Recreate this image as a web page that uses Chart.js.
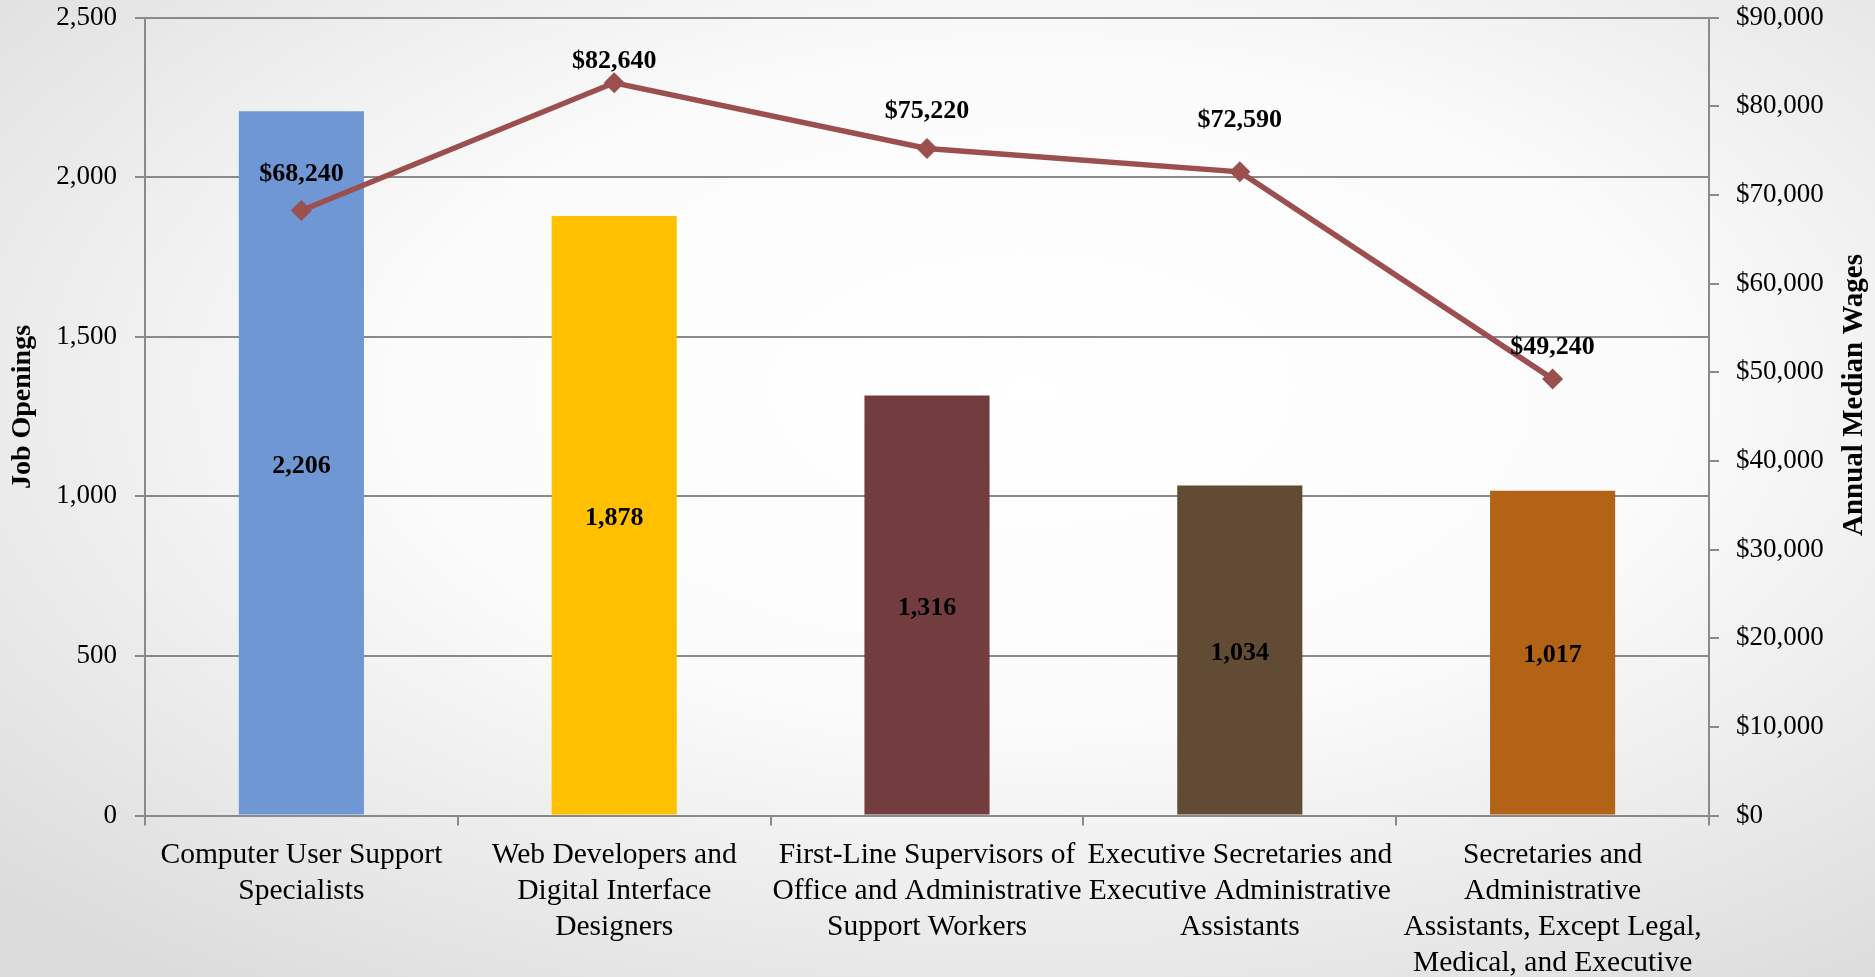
<!DOCTYPE html>
<html>
<head>
<meta charset="utf-8">
<script src="https://cdn.jsdelivr.net/npm/chart.js@4.4.1/dist/chart.umd.min.js"></script>
<style>
  html, body { margin: 0; padding: 0; }
  body {
    width: 1875px; height: 977px; overflow: hidden;
    background: radial-gradient(ellipse 75% 75% at 55% 40%, #ffffff 0%, #fbfbfb 45%, #dcdcdc 100%);
  }
  #wrap { position: relative; width: 1875px; height: 977px; }
</style>
</head>
<body>
<div id="wrap"><canvas id="c"></canvas></div>
<script>
const categories = [
  ["Computer User Support", "Specialists"],
  ["Web Developers and", "Digital Interface", "Designers"],
  ["First-Line Supervisors of", "Office and Administrative", "Support Workers"],
  ["Executive Secretaries and", "Executive Administrative", "Assistants"],
  ["Secretaries and", "Administrative", "Assistants, Except Legal,", "Medical, and Executive"]
];
const jobOpenings = [2206, 1878, 1316, 1034, 1017];
const medianWages = [68240, 82640, 75220, 72590, 49240];
const barColors = ["#6F97D3", "#FFC000", "#733D3F", "#624B35", "#B26316"];
const lineColor = "#9B4F4E";
const leftTitle = "Job Openings";
const rightTitle = "Annual Median Wages";
const wageLabelOffsets = [36, 21, 37, 52, 32];

const FONT = "'Liberation Serif', 'Times New Roman', serif";
const gridColor = "#8a8a8a";

const fmtNum = v => Number(v).toLocaleString('en-US');
const fmtMoney = v => '$' + Number(v).toLocaleString('en-US');

const labelPlugin = {
  id: 'labels',
  afterDatasetsDraw(chart) {
    const ctx = chart.ctx;
    ctx.save();
    ctx.fillStyle = '#000';
    ctx.font = "bold 26px " + FONT;
    ctx.textAlign = 'center';
    ctx.textBaseline = 'middle';
    const barMeta = chart.getDatasetMeta(1);
    barMeta.data.forEach((el, i) => {
      const y = (el.y + el.base) / 2 + 3;
      ctx.fillText(fmtNum(jobOpenings[i]), el.x, y);
    });
    const lineMeta = chart.getDatasetMeta(0);
    lineMeta.data.forEach((el, i) => {
      ctx.fillText(fmtMoney(medianWages[i]), el.x, el.y - wageLabelOffsets[i]);
    });
    ctx.restore();
  },
  afterDraw(chart) {
    const ctx = chart.ctx;
    ctx.save();
    ctx.fillStyle = '#000';
    ctx.font = "bold 28px " + FONT;
    ctx.textAlign = 'center';
    ctx.textBaseline = 'middle';
    ctx.translate(23, 407);
    ctx.rotate(-Math.PI / 2);
    ctx.fillText(leftTitle, 0, 0);
    ctx.restore();
    ctx.save();
    ctx.fillStyle = '#000';
    ctx.font = "bold 29px " + FONT;
    ctx.textAlign = 'center';
    ctx.textBaseline = 'middle';
    ctx.translate(1855, 395);
    ctx.rotate(-Math.PI / 2);
    ctx.fillText(rightTitle, 0, 0);
    ctx.restore();
  }
};

new Chart(document.getElementById('c'), {
  data: {
    labels: categories,
    datasets: [
      {
        type: 'line',
        label: 'Annual Median Wages',
        data: medianWages,
        yAxisID: 'y1',
        borderColor: lineColor,
        backgroundColor: lineColor,
        borderWidth: 5.5,
        pointStyle: 'rectRot',
        pointRadius: 10.5,
        pointHoverRadius: 10.5,
        pointBorderWidth: 0,
        tension: 0,
        order: 0
      },
      {
        type: 'bar',
        label: 'Job Openings',
        data: jobOpenings,
        yAxisID: 'y',
        backgroundColor: barColors,
        borderWidth: 0,
        barPercentage: 0.4,
        categoryPercentage: 1.0,
        order: 1
      }
    ]
  },
  options: {
    responsive: true,
    maintainAspectRatio: false,
    animation: false,
    devicePixelRatio: 1,
    layout: { padding: { top: 17.5, left: 0, right: 0, bottom: 0 } },
    plugins: { legend: { display: false }, tooltip: { enabled: false } },
    scales: {
      x: {
        offset: true,
        grid: { offset: true, drawOnChartArea: false, drawTicks: true, tickLength: 10, color: gridColor, lineWidth: 2 },
        border: { display: true, color: gridColor, width: 2 },
        ticks: { color: '#000', font: { family: FONT, size: 29.5, lineHeight: 1.22 }, padding: 12, maxRotation: 0, minRotation: 0, autoSkip: false },
        afterFit(s) { s.height = 161.5; s.paddingLeft = 0; s.paddingRight = 0; }
      },
      y: {
        position: 'left',
        min: 0, max: 2500,
        grid: { color: gridColor, lineWidth: 2, drawTicks: true, tickLength: 10 },
        border: { display: true, color: gridColor, width: 2 },
        ticks: { stepSize: 500, color: '#000', font: { family: FONT, size: 27 }, padding: 18, callback: v => fmtNum(v) },
        afterFit(s) { s.width = 145; s.paddingTop = 0; s.paddingBottom = 0; }
      },
      y1: {
        position: 'right',
        min: 0, max: 90000,
        grid: { drawOnChartArea: false, drawTicks: true, tickLength: 10, color: gridColor, lineWidth: 2 },
        border: { display: true, color: gridColor, width: 2 },
        ticks: { stepSize: 10000, color: '#000', font: { family: FONT, size: 27 }, padding: 17, callback: v => fmtMoney(v) },
        afterFit(s) { s.width = 166; s.paddingTop = 0; s.paddingBottom = 0; }
      }
    }
  },
  plugins: [labelPlugin]
});
</script>
</body>
</html>
